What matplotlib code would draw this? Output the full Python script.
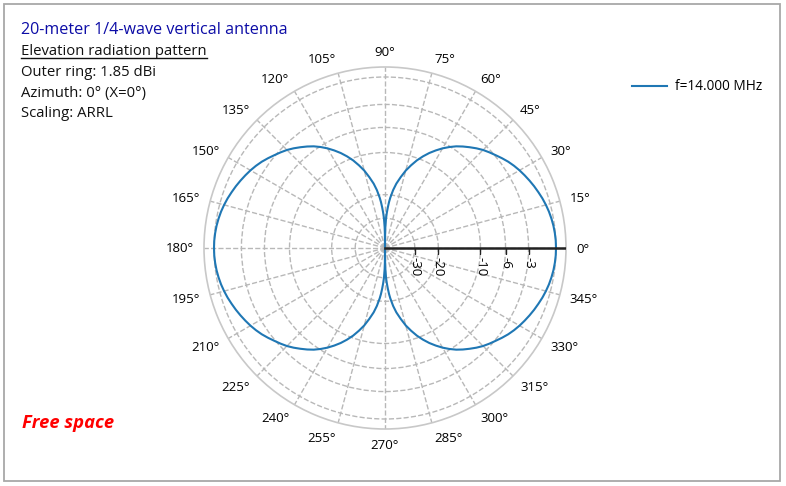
import numpy as np
import matplotlib
matplotlib.use("Agg")
import matplotlib.pyplot as plt
from matplotlib.lines import Line2D
from matplotlib.patches import Rectangle

plt.rcParams['font.family'] = ['Open Sans', 'DejaVu Sans']

# elevation pattern, one quadrant (degrees above horizon -> dB below outer ring)
elev_deg = [0, 2.5, 5, 7.5, 10, 12.5, 15, 17.5, 20, 22.5, 25, 27.5, 30, 32.5,
            35, 37.5, 40, 42.5, 45, 47.5, 50, 52.5, 55, 57.5, 60, 62.5, 65,
            67.5, 70, 72.5, 75, 77.5, 80, 82, 84, 85, 86, 87, 88, 89, 89.5, 90]
gain_db = [0.0, -0.01, -0.05, -0.11, -0.2, -0.31, -0.45, -0.61, -0.8, -0.99,
           -1.2, -1.42, -1.65, -1.91, -2.2, -2.54, -2.9, -3.24, -3.6, -4.03,
           -4.5, -4.98, -5.5, -6.12, -6.8, -7.57, -8.4, -9.35, -10.4, -11.65,
           -13.0, -14.7, -16.5, -18.4, -20.9, -22.5, -24.6, -27.0, -30.0,
           -36.0, -42.0, -90.0]

ring_db = [0, -3, -6, -10, -20, -30]
ring_labels = ['', '-3', '-6', '-10', '-20', '-30']
theta_ticks = list(range(0, 360, 15))

info_lines = ['Elevation radiation pattern', 'Outer ring: 1.85 dBi',
              'Azimuth: 0\u00b0 (X=0\u00b0)', 'Scaling: ARRL']


def arrl(db):
    # ARRL log scale: each -2 dB shrinks the radius by 0.89
    return 0.89 ** (-np.asarray(db, dtype=float) / 2.0)


# mirror the quadrant around the full circle
e = np.array(elev_deg)
g = np.array(gain_db)
ang = np.concatenate([e, 180 - e[::-1], 180 + e, 360 - e[::-1]])
val = np.concatenate([g, g[::-1], g, g[::-1]])

W, H = 786, 486
fig = plt.figure(figsize=(W / 100, H / 100), dpi=100)

cx, cy, R = 385, 248, 181
ax = fig.add_axes([(cx - R) / W, (H - cy - R) / H, 2 * R / W, 2 * R / H],
                  projection='polar')

ax.plot(np.radians(ang), arrl(val), color='#1f77b4', lw=1.5, zorder=3)

rmax = 181 / 171
ax.set_rlim(0, rmax)
ax.set_thetagrids(theta_ticks, labels=[''] * len(theta_ticks))
ax.set_rgrids(arrl(ring_db), labels=[''] * len(ring_db))
ax.grid(True, color='#b8b8b8', linestyle='--', linewidth=1)
ax.spines['polar'].set_color('#c8c8c8')
ax.spines['polar'].set_linewidth(1.2)
ax.tick_params(axis='x', direction='out', length=4.8, width=1,
               color='#444444')
ax.tick_params(axis='y', length=0)

# angle labels: left/right aligned by side, nudged outward vertically
for t in theta_ticks:
    c, s = np.cos(np.radians(t)), np.sin(np.radians(t))
    ha = 'center' if abs(c) < 1e-6 else ('left' if c > 0 else 'right')
    ax.annotate(f'{t}\u00b0', xy=(np.radians(t), rmax),
                xytext=(10 * c, 15 * s - 1), textcoords='offset pixels',
                ha=ha, va='center', fontsize=9.5, annotation_clip=False)

# radial axis with tick marks and rotated labels
ax.plot([0, 0], [0, rmax], color='#222222', lw=1.8, zorder=4)
rt = arrl(ring_db[1:])
ax.plot(np.zeros(len(rt)), rt, linestyle='none', marker=3, markersize=4.5,
        color='#222222', zorder=4)
for db, lab in zip(ring_db[1:], ring_labels[1:]):
    ax.annotate(lab, xy=(0, arrl(db)), xytext=(0, -9),
                textcoords='offset pixels', rotation=-90,
                ha='center', va='top', fontsize=9.5)

# header text
fig.text(21 / W, 1 - 34 / H, '20-meter 1/4-wave vertical antenna',
         color='#0c0ca6', fontsize=11.6, va='baseline')
txts = []
for i, s in enumerate(info_lines):
    txts.append(fig.text(21 / W, 1 - (55 + 20.8 * i) / H, s, fontsize=10.7,
                         color='#111111', va='baseline'))
fig.text(22 / W, 1 - 428 / H, 'Free space', color='#ff0000', fontsize=13.2,
         fontweight='bold', fontstyle='italic', va='baseline')

# legend
fig.add_artist(Line2D([632 / W, 667 / W], [1 - 86 / H] * 2,
                      color='#1f77b4', lw=1.5))
fig.text(675 / W, 1 - 86 / H, 'f=14.000 MHz', fontsize=9.8, va='center')

# figure border
fig.add_artist(Rectangle((4 / W, 1 - 481 / H), 776 / W, 477 / H,
                         transform=fig.transFigure, fill=False,
                         edgecolor='#a8a8a8', lw=1.3))

# underline the second header line
fig.canvas.draw()
bb = txts[0].get_window_extent(fig.canvas.get_renderer())
fig.add_artist(Line2D([bb.x0 / W, bb.x1 / W], [(bb.y0 + 1) / H] * 2,
                      color='#111111', lw=1))

fig.savefig('out.png', dpi=100)
